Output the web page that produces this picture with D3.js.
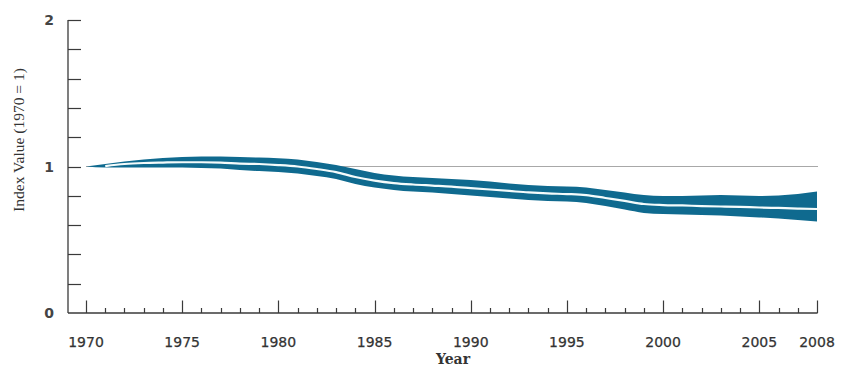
<!DOCTYPE html>
<html>
<head>
<meta charset="utf-8">
<script src="https://cdn.jsdelivr.net/npm/d3@7"></script>
<style>
  html, body { margin: 0; padding: 0; background: #fff; }
  svg { display: block; }
</style>
</head>
<body>
<svg id="chart" width="843" height="366"></svg>
<script>
// Index value by year (1970 = 1): central estimate with upper and lower bounds
const years = d3.range(1970, 2009);
const upper = [1.000, 1.017, 1.034, 1.048, 1.058, 1.065, 1.068, 1.068, 1.065, 1.061,
               1.056, 1.048, 1.031, 1.010, 0.983, 0.956, 0.939, 0.928, 0.922, 0.915,
               0.908, 0.898, 0.884, 0.874, 0.867, 0.863, 0.857, 0.840, 0.823, 0.805,
               0.799, 0.799, 0.802, 0.805, 0.802, 0.799, 0.802, 0.812, 0.829];
const index = [1.000, 1.003, 1.017, 1.024, 1.027, 1.029, 1.029, 1.027, 1.020, 1.017,
               1.010, 1.000, 0.983, 0.962, 0.928, 0.904, 0.887, 0.877, 0.870, 0.863,
               0.853, 0.843, 0.833, 0.823, 0.816, 0.812, 0.805, 0.785, 0.765, 0.744,
               0.737, 0.734, 0.730, 0.727, 0.724, 0.720, 0.717, 0.713, 0.710];
const lower = [1.000, 0.993, 0.993, 0.993, 0.993, 0.993, 0.990, 0.986, 0.976, 0.969,
               0.962, 0.952, 0.935, 0.915, 0.881, 0.857, 0.840, 0.829, 0.823, 0.812,
               0.802, 0.792, 0.782, 0.771, 0.765, 0.761, 0.751, 0.730, 0.706, 0.683,
               0.676, 0.672, 0.669, 0.666, 0.659, 0.652, 0.645, 0.635, 0.625];
const xTickLabels = [1970, 1975, 1980, 1985, 1990, 1995, 2000, 2005, 2008];
const yTickLabels = [0, 1, 2];
const baselineValue = 1;

const rows = years.map((yr, i) => ({ yr, hi: upper[i], mid: index[i], lo: lower[i] }));

const svg = d3.select("#chart");
const axisLeftX = 68;
const x = d3.scaleLinear().domain([1970, 2008]).range([86, 817]);
const y = d3.scaleLinear().domain([0, 2]).range([313, 20]);

const axisColor = "#3a3a3a";

// reference line at the base value
svg.append("line")
  .attr("x1", x(1970)).attr("x2", x(2008) + 1)
  .attr("y1", y(baselineValue)).attr("y2", y(baselineValue))
  .attr("stroke", "#a8a8a8").attr("stroke-width", 1);

// uncertainty band
const band = d3.area()
  .x(d => x(d.yr))
  .y0(d => y(d.lo))
  .y1(d => y(d.hi))
  .curve(d3.curveMonotoneX);
svg.append("path").datum(rows)
  .attr("d", band)
  .attr("fill", "#0f6a8f");

// central index line
const mid = d3.line()
  .x(d => x(d.yr))
  .y(d => y(d.mid))
  .curve(d3.curveMonotoneX);
svg.append("path").datum(rows.slice(1))
  .attr("d", mid)
  .attr("fill", "none")
  .attr("stroke", "#f4fbfb")
  .attr("stroke-width", 2.2);

// y axis: line with inward ticks every 0.2
svg.append("line")
  .attr("x1", axisLeftX).attr("x2", axisLeftX)
  .attr("y1", y(2)).attr("y2", y(0))
  .attr("stroke", axisColor).attr("stroke-width", 1.3);
svg.selectAll(".ytick").data(d3.range(1, 11).map(k => k * 0.2))
  .join("line")
  .attr("x1", axisLeftX).attr("x2", axisLeftX + 13)
  .attr("y1", d => Math.round(y(d)) + 0.5).attr("y2", d => Math.round(y(d)) + 0.5)
  .attr("stroke", axisColor).attr("stroke-width", 1.2);
svg.selectAll(".ylab").data(yTickLabels)
  .join("text")
  .attr("x", 54).attr("y", d => y(d) + 5)
  .attr("text-anchor", "end")
  .attr("font-family", "DejaVu Sans, sans-serif")
  .attr("font-size", 14)
  .attr("font-weight", "bold")
  .attr("fill", "#444")
  .text(d => d);

// x axis: baseline with upward ticks (long every 5 years and at 2008)
svg.append("line")
  .attr("x1", axisLeftX).attr("x2", x(2008) + 0.6)
  .attr("y1", y(0)).attr("y2", y(0))
  .attr("stroke", axisColor).attr("stroke-width", 1.3);
svg.selectAll(".xtick").data(years)
  .join("line")
  .attr("x1", d => Math.round(x(d)) + 0.5).attr("x2", d => Math.round(x(d)) + 0.5)
  .attr("y1", y(0))
  .attr("y2", d => y(0) - ((d % 5 === 0 || d === 2008) ? 12.5 : 5))
  .attr("stroke", axisColor).attr("stroke-width", 1.2);
svg.selectAll(".xlab").data(xTickLabels)
  .join("text")
  .attr("x", d => x(d)).attr("y", 347)
  .attr("text-anchor", "middle")
  .attr("font-family", "DejaVu Sans, sans-serif")
  .attr("font-size", 14)
  .attr("fill", "#333")
  .attr("stroke", "#333").attr("stroke-width", 0.25)
  .text(d => d);

// axis titles
svg.append("text")
  .attr("x", 453).attr("y", 364)
  .attr("text-anchor", "middle")
  .attr("font-family", "DejaVu Serif, serif")
  .attr("font-size", 14)
  .attr("font-weight", "bold")
  .attr("fill", "#333")
  .text("Year");
svg.append("text")
  .attr("transform", "translate(24,140) rotate(-90)")
  .attr("text-anchor", "middle")
  .attr("font-family", "Liberation Serif, serif")
  .attr("font-size", 15.5)
  .attr("fill", "#333")
  .text("Index Value (1970 = 1)");
</script>
</body>
</html>
